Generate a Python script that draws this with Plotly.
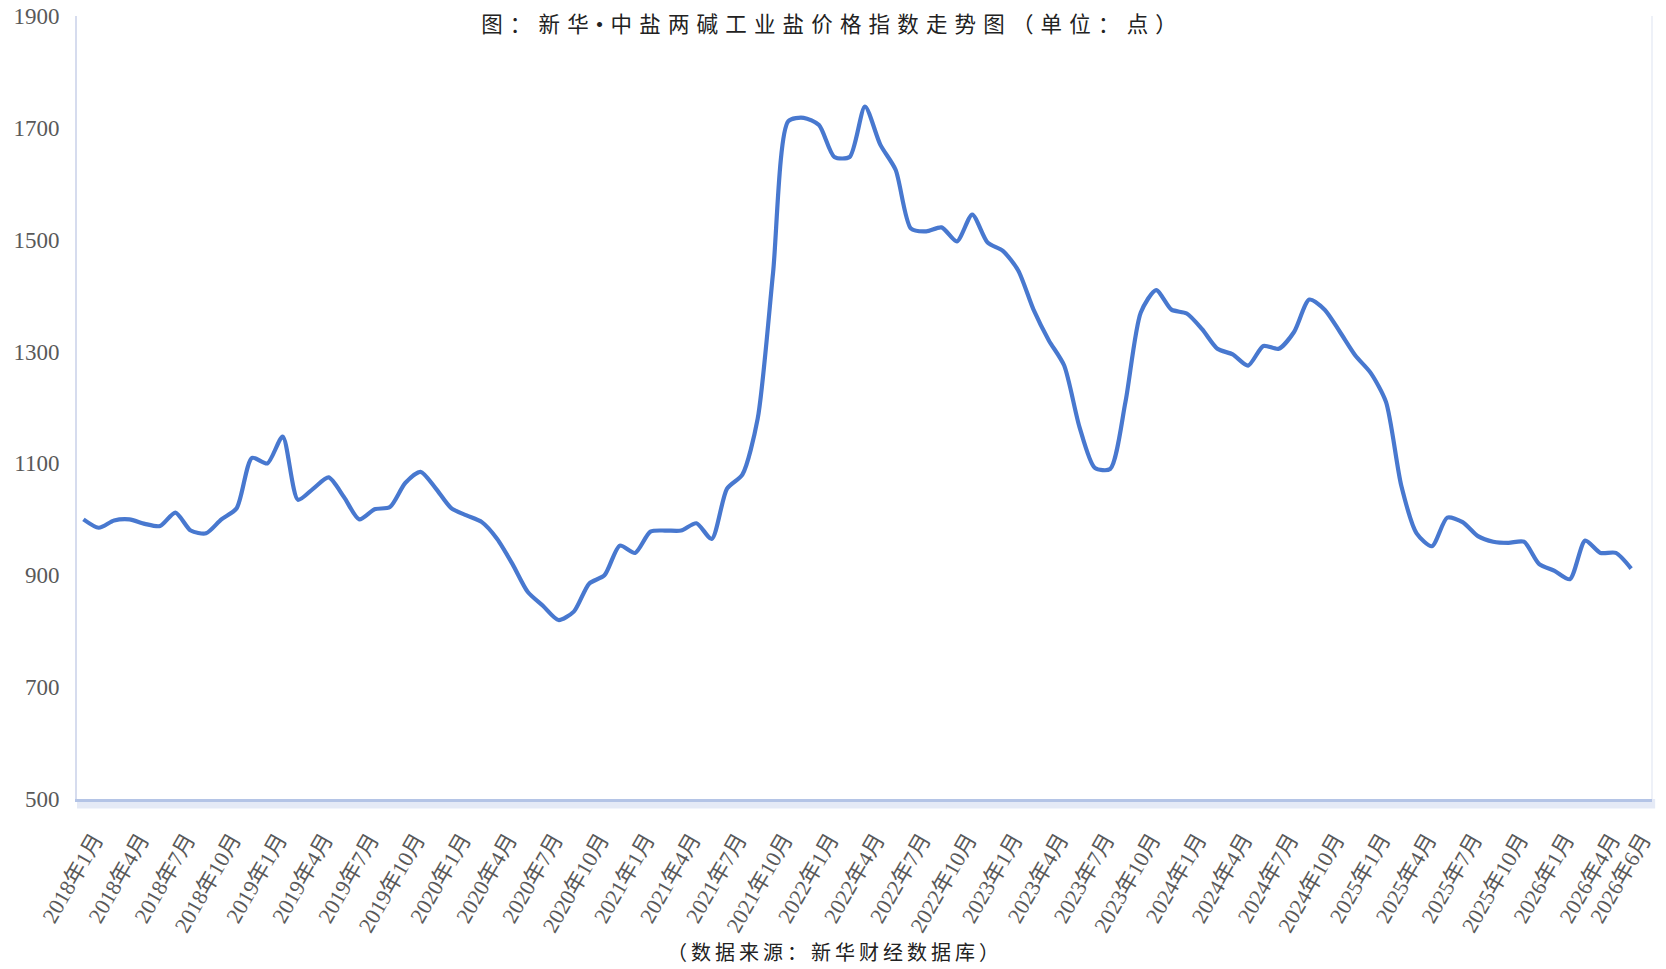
import plotly.graph_objects as go

months = [f"{y}年{m}月" for y in range(2018, 2027) for m in range(1, 13)][:102]

values = [
    1000, 985, 998, 1000, 992, 988, 1012, 980, 975, 1000, 1020, 1110,
    1100, 1148, 1035, 1055, 1075, 1040, 1000, 1018, 1022, 1065, 1085, 1055,
    1020, 1007, 995, 965, 920, 870, 845, 820, 835, 885, 900, 953,
    940, 978, 980, 980, 993, 965, 1055, 1080, 1180, 1440, 1712, 1718,
    1705, 1648, 1648, 1738, 1670, 1625, 1520, 1515, 1522, 1497, 1545, 1495,
    1480, 1445, 1375, 1320, 1275, 1165, 1092, 1090, 1210, 1370, 1410, 1375,
    1368, 1340, 1305, 1295, 1275, 1310, 1305, 1335, 1393, 1375, 1335, 1293,
    1262, 1210, 1060, 975, 952, 1003, 995, 970, 960, 958, 960, 920,
    908, 893, 962, 940, 940, 912,
]

tick_labels = [months[i] for i in range(0, 102, 3)] + [months[101]]

title_text = "图：新华•中盐两碱工业盐价格指数走势图（单位：点）"
source_text = "（数据来源：新华财经数据库）"

FONT = "Liberation Serif, Noto Sans CJK SC, serif"


def spaced(s, sp):
    return sp.join(list(s))


T, B = 16, 170
PLOT_BOTTOM = 969 - B
PLOT_H = PLOT_BOTTOM - T

fig = go.Figure()
fig.add_trace(go.Scatter(
    x=months, y=values, mode="lines",
    line=dict(color="#4878CF", width=4.2, shape="spline", smoothing=0.7),
    showlegend=False, hoverinfo="x+y",
))

fig.update_layout(
    width=1666, height=969,
    margin=dict(l=77, r=14, t=T, b=B, autoexpand=False),
    paper_bgcolor="white", plot_bgcolor="white",
    font=dict(family=FONT, color="#595959"),
    title=dict(text=spaced(title_text, "\u2004"), x=829 / 1666, xref="container",
               xanchor="center", y=1 - 24 / 969, yref="container", yanchor="middle",
               font=dict(family=FONT, size=21.5, color="#222222")),
    xaxis=dict(
        type="category", range=[-0.42, 102.36], automargin=False,
        tickmode="array", tickvals=tick_labels, ticktext=tick_labels,
        tickangle=-60, tickfont=dict(family=FONT, size=22, color="#595959"),
        showgrid=False, zeroline=False, showline=True,
        linecolor="#B4C4E6", linewidth=3, ticks="", ticklen=0,
        ticklabelstandoff=16, ticklabelshift=11,
    ),
    yaxis=dict(
        range=[500, 1900], tickmode="array", automargin=False,
        tickvals=[500, 700, 900, 1100, 1300, 1500, 1700, 1900],
        tickfont=dict(family=FONT, size=23, color="#595959"),
        showgrid=False, zeroline=False, showline=True,
        linecolor="#D6DCEE", linewidth=2, ticks="", ticklabelstandoff=11,
        ticklabeloverflow="allow",
    ),
    annotations=[dict(
        text=spaced(source_text, "\u2009"), xref="paper", yref="paper", x=0.48,
        y=-(953 - PLOT_BOTTOM) / PLOT_H, xanchor="center", yanchor="middle",
        showarrow=False, font=dict(family=FONT, size=20, color="#222222"),
    )],
    shapes=[
        dict(type="line", xref="paper", yref="paper", x0=1, x1=1, y0=0, y1=1,
             line=dict(color="#EEF1F8", width=2)),
        dict(type="rect", xref="paper", yref="paper", x0=0, x1=1.002, y0=-0.012, y1=0,
             fillcolor="rgba(180,196,230,0.35)", line=dict(width=0), layer="below"),
    ],
)

fig.write_html("out.html")
